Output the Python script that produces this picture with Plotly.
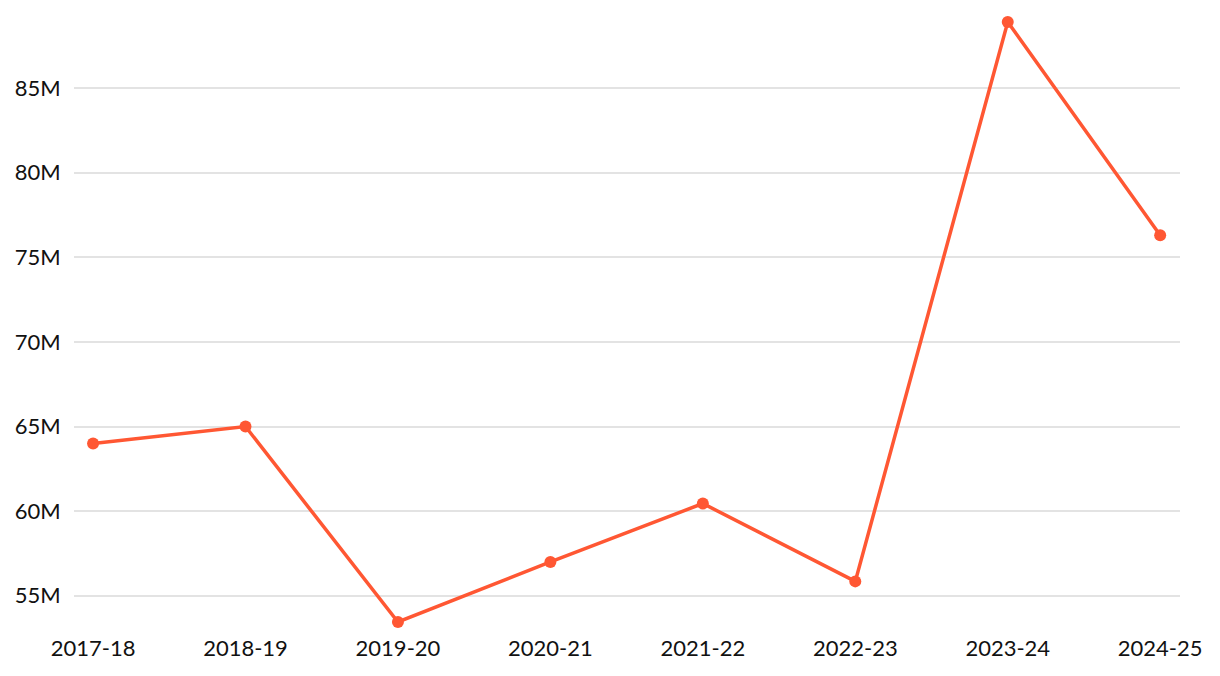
"""Line chart of yearly totals"""
import plotly.graph_objects as go

seasons = ["2017-18", "2018-19", "2019-20", "2020-21",
           "2021-22", "2022-23", "2023-24", "2024-25"]
totals = [64.0e6, 65.0e6, 53.45e6, 57.0e6, 60.45e6, 55.85e6, 88.9e6, 76.3e6]
tick_vals = [55e6, 60e6, 65e6, 70e6, 75e6, 80e6, 85e6]
tick_text = ["55M", "60M", "65M", "70M", "75M", "80M", "85M"]

fig = go.Figure()
fig.add_trace(
    go.Scatter(
        x=list(range(len(seasons))),
        y=totals,
        mode="lines+markers",
        line={"color": "#FF5733", "width": 3.5},
        marker={"color": "#FF5733", "size": 12},
        cliponaxis=False,
        showlegend=False,
    )
)

# page body has an 8px margin, so the figure is sized to fit inside it
fig.update_layout(
    width=1204,
    height=660,
    margin={"l": 66, "r": 32, "t": 14, "b": 46},
    plot_bgcolor="white",
    paper_bgcolor="white",
    font={"family": "Lato, Open Sans, sans-serif", "size": 22, "color": "#111"},
)
fig.update_xaxes(
    range=[-0.125, 7.13],
    tickmode="array",
    tickvals=list(range(len(seasons))),
    ticktext=seasons,
    showgrid=False,
    zeroline=False,
    showline=False,
    ticks="outside",
    tickcolor="rgba(0,0,0,0)",
    ticklen=7,
    automargin=False,
)
fig.update_yaxes(
    range=[min(totals), max(totals)],
    tickmode="array",
    tickvals=tick_vals,
    ticktext=tick_text,
    showgrid=True,
    gridcolor="#E3E3E3",
    gridwidth=1.5,
    zeroline=False,
    showline=False,
    ticks="outside",
    tickcolor="rgba(0,0,0,0)",
    ticklen=8,
    automargin=False,
)

fig.write_html("out.html")
